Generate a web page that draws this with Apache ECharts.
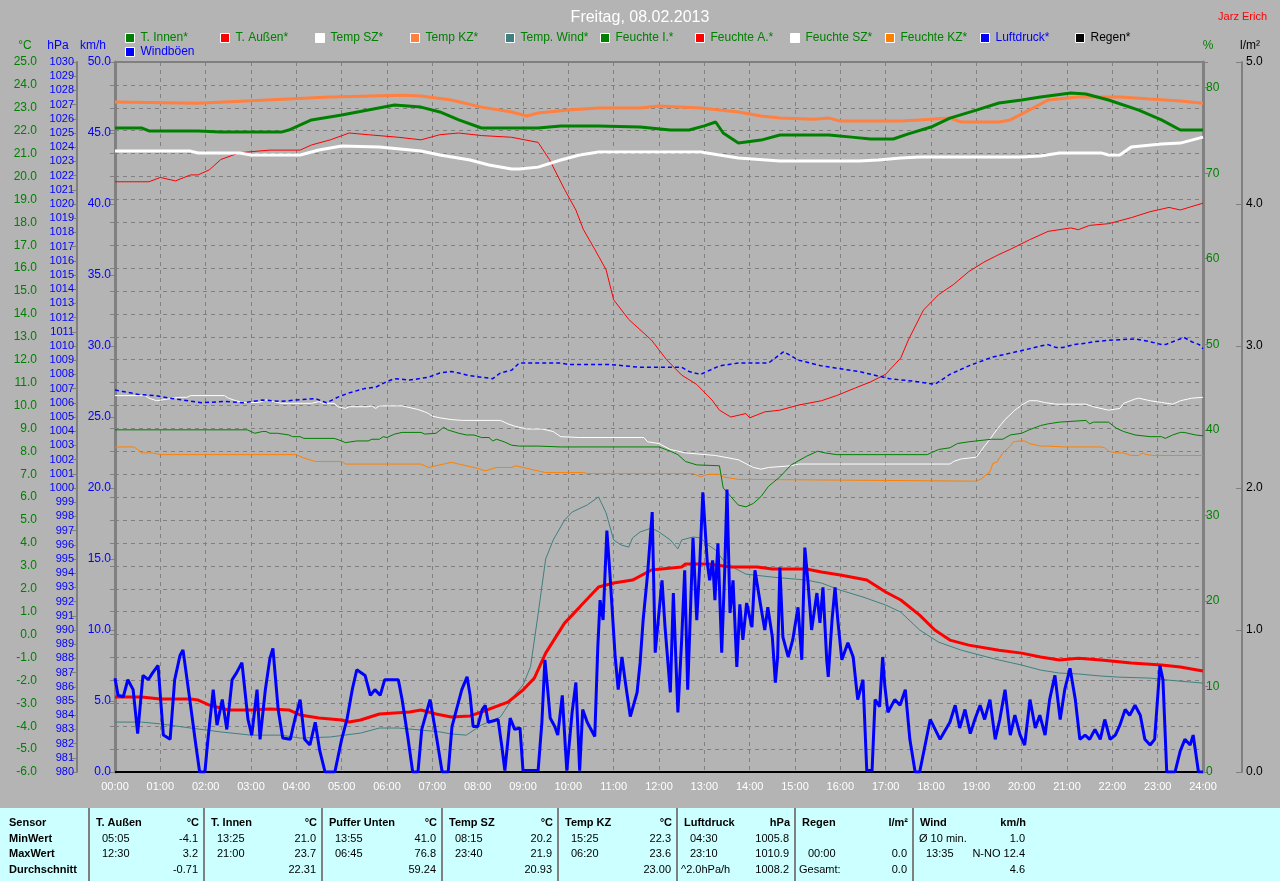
<!DOCTYPE html>
<html><head><meta charset="utf-8">
<script src="https://cdn.jsdelivr.net/npm/echarts@6/dist/echarts.min.js"></script>
<style>html,body{margin:0;padding:0;background:#b4b4b4}#c{width:1280px;height:881px}</style>
</head><body><div id="c"></div>
<script>
// ---------- DATA (time in minutes since 00:00, value) ----------
const tempKZ = [[0,23.25],[110,23.2],[285,23.47],[380,23.55],[405,23.52],[445,23.34],[485,23.03],[525,22.82],[545,22.64],[560,22.77],[600,22.9],[640,22.99],[695,22.99],[720,23.08],[775,22.99],[825,22.82],[855,22.64],[880,22.55],[925,22.5],[945,22.55],[960,22.42],[1040,22.42],[1065,22.47],[1105,22.55],[1120,22.38],[1170,22.38],[1185,22.47],[1210,22.9],[1235,23.34],[1275,23.47],[1330,23.47],[1370,23.38],[1410,23.3],[1440,23.2]];
const tInnen = [[0,22.12],[35,22.12],[45,21.99],[110,21.99],[140,21.94],[220,21.94],[230,22.03],[260,22.47],[300,22.69],[335,22.9],[370,23.12],[405,23.03],[430,22.82],[455,22.47],[485,22.12],[560,22.12],[590,22.21],[640,22.21],[695,22.16],[735,22.03],[760,22.03],[780,22.21],[795,22.38],[805,21.9],[825,21.46],[855,21.59],[880,21.81],[945,21.81],[975,21.72],[1000,21.64],[1030,21.64],[1050,21.86],[1080,22.16],[1105,22.55],[1140,22.9],[1170,23.21],[1200,23.34],[1225,23.47],[1265,23.65],[1285,23.6],[1315,23.34],[1355,22.9],[1385,22.47],[1410,22.03],[1440,22.03]];
const tempSZ = [[0,21.11],[100,21.11],[110,21.03],[165,21.03],[180,20.94],[245,20.94],[270,21.16],[300,21.33],[350,21.29],[405,21.11],[430,20.94],[470,20.72],[495,20.5],[525,20.33],[535,20.33],[560,20.41],[590,20.72],[615,20.94],[640,21.07],[775,21.07],[800,20.94],[825,20.81],[880,20.68],[985,20.68],[1010,20.72],[1040,20.81],[1065,20.85],[1200,20.85],[1225,20.9],[1250,21.03],[1305,21.03],[1315,20.94],[1330,20.94],[1345,21.29],[1385,21.42],[1410,21.46],[1440,21.72]];
const tAussen = [[0,-2.73],[35,-2.73],[60,-2.81],[100,-2.81],[110,-2.86],[125,-3.08],[150,-3.29],[180,-3.29],[205,-3.25],[230,-3.29],[245,-3.51],[270,-3.64],[300,-3.73],[310,-3.82],[325,-3.73],[350,-3.47],[390,-3.38],[405,-3.29],[425,-3.47],[445,-3.6],[470,-3.55],[485,-3.38],[520,-2.95],[540,-2.42],[555,-1.9],[570,-0.81],[595,0.5],[615,1.2],[640,2.08],[660,2.25],[685,2.38],[710,2.82],[750,2.95],[755,3.08],[785,3.08],[815,2.95],[850,2.95],[870,2.86],[915,2.86],[935,2.73],[960,2.6],[995,2.38],[1020,1.86],[1040,1.51],[1065,0.85],[1085,0.2],[1105,-0.24],[1130,-0.46],[1170,-0.68],[1200,-0.81],[1225,-0.98],[1250,-1.11],[1275,-1.03],[1305,-1.11],[1345,-1.24],[1385,-1.33],[1410,-1.42],[1440,-1.59]];
const tempWind = [[0,-3.82],[35,-3.82],[60,-3.9],[100,-4.08],[140,-4.25],[180,-4.39],[220,-4.39],[245,-4.52],[285,-4.47],[325,-4.3],[350,-4.08],[375,-4.08],[405,-4.17],[430,-4.25],[445,-4.34],[465,-4.39],[485,-3.95],[510,-3.6],[530,-2.6],[540,-2.2],[550,-1.4],[560,0.9],[570,3.3],[580,4.13],[595,5.0],[605,5.35],[625,5.66],[640,6.01],[650,5.31],[660,4.13],[670,3.91],[680,3.82],[685,4.22],[695,4.48],[710,4.65],[720,4.48],[735,4.13],[745,3.74],[750,4.13],[765,4.26],[775,4.22],[785,3.91],[795,3.69],[805,3.25],[820,2.9],[835,2.64],[870,2.51],[915,2.38],[935,2.25],[960,1.94],[990,1.64],[1020,1.29],[1040,0.98],[1065,0.2],[1090,-0.33],[1120,-0.68],[1145,-0.9],[1170,-1.11],[1200,-1.33],[1225,-1.55],[1250,-1.68],[1275,-1.72],[1305,-1.81],[1330,-1.86],[1370,-1.9],[1395,-1.99],[1440,-2.12]];
const feuchteA = [[0,69.0],[45,69.0],[60,69.5],[80,69.1],[100,69.8],[110,69.8],[125,70.4],[140,71.6],[165,72.4],[205,72.7],[245,72.7],[260,73.3],[285,73.9],[310,74.7],[335,74.5],[375,74.2],[405,73.9],[430,74.5],[455,74.7],[485,74.4],[525,74.2],[560,73.6],[575,71.6],[595,68.1],[610,65.7],[620,63.4],[635,61.1],[650,58.7],[660,55.2],[680,52.9],[710,50.5],[730,48.2],[750,46.4],[770,45.3],[790,43.5],[800,42.3],[815,41.5],[835,41.9],[840,41.4],[860,42.1],[880,42.3],[905,42.9],[935,43.4],[955,44.0],[980,44.9],[1000,45.6],[1020,46.5],[1040,48.4],[1050,50.5],[1070,54.0],[1090,55.8],[1110,57.0],[1130,58.5],[1150,59.6],[1170,60.5],[1185,61.1],[1210,62.2],[1235,63.2],[1265,63.6],[1275,63.4],[1290,63.9],[1315,64.1],[1345,64.8],[1370,65.5],[1395,66.0],[1410,65.7],[1440,66.5]];
const feuchteSZ = [[0,44.0],[40,44.0],[45,43.7],[55,43.4],[70,43.6],[85,43.8],[95,43.8],[100,44.0],[145,44.0],[150,43.7],[160,43.4],[170,43.2],[190,43.2],[200,43.5],[210,43.3],[220,43.1],[260,43.1],[270,43.3],[275,43.1],[290,43.1],[295,42.7],[305,42.5],[310,42.7],[335,42.7],[340,42.8],[345,42.5],[350,42.8],[380,42.8],[385,42.7],[400,42.4],[410,42.1],[415,41.9],[420,41.6],[430,41.4],[445,41.2],[460,41.1],[510,41.1],[520,40.7],[530,40.4],[545,40.1],[565,40.1],[580,39.8],[590,39.2],[615,39.1],[700,39.1],[705,38.6],[720,38.4],[735,37.7],[755,37.3],[795,37.0],[825,36.5],[845,35.6],[855,35.4],[865,35.6],[895,35.8],[905,36.0],[1105,36.0],[1110,36.3],[1120,36.6],[1140,36.8],[1150,38.0],[1158,38.9],[1167,40.0],[1178,41.2],[1191,42.3],[1200,42.9],[1210,43.4],[1220,43.4],[1230,43.2],[1245,43.0],[1285,43.0],[1295,42.7],[1315,42.3],[1330,42.5],[1335,43.1],[1350,43.6],[1355,43.7],[1370,43.4],[1385,43.2],[1400,43.0],[1410,43.4],[1425,43.7],[1440,43.8]];
const feuchteI = [[0,40.0],[175,40.0],[185,39.6],[195,39.8],[200,39.8],[205,39.6],[215,39.6],[230,39.4],[235,39.2],[245,39.2],[250,39.0],[290,39.0],[300,38.7],[305,38.5],[320,38.7],[335,38.7],[340,38.9],[350,38.9],[355,39.2],[360,39.1],[370,39.5],[380,39.7],[405,39.7],[410,39.5],[425,39.6],[435,40.3],[440,40.0],[455,39.6],[465,39.4],[475,39.4],[485,39.1],[495,39.1],[500,38.7],[505,38.9],[515,38.6],[525,38.2],[535,38.1],[560,38.1],[590,38.0],[720,38.0],[735,37.5],[745,37.1],[755,36.3],[770,35.9],[800,35.8],[805,33.2],[815,32.2],[825,31.2],[835,31.0],[845,31.4],[855,32.2],[865,33.4],[880,34.5],[895,35.9],[915,36.9],[930,37.5],[940,37.3],[955,37.1],[1075,37.1],[1090,37.7],[1105,37.9],[1115,38.4],[1130,38.6],[1160,38.9],[1175,38.9],[1185,39.4],[1200,39.6],[1210,40.0],[1225,40.5],[1235,40.7],[1250,40.9],[1285,41.1],[1290,40.7],[1295,40.9],[1315,40.9],[1325,40.2],[1335,39.8],[1350,39.4],[1370,39.2],[1385,39.2],[1390,39.0],[1400,39.4],[1410,39.7],[1415,39.7],[1430,39.4],[1440,39.3]];
const feuchteKZ = [[0,38.0],[25,38.0],[30,37.7],[35,37.3],[50,37.3],[60,37.1],[240,37.1],[250,36.7],[265,36.3],[300,36.3],[305,36.0],[405,36.0],[415,35.6],[430,35.9],[445,36.2],[460,35.9],[480,35.5],[490,35.2],[505,35.6],[525,35.6],[530,35.8],[545,35.5],[560,35.2],[570,35.0],[620,35.0],[625,34.9],[765,34.9],[775,34.5],[785,34.8],[800,34.8],[805,34.5],[825,34.2],[843,34.2],[845,34.0],[1140,34.0],[1147,34.3],[1158,35.1],[1162,36.1],[1167,36.2],[1175,37.3],[1185,38.1],[1189,38.6],[1198,38.7],[1204,38.7],[1210,38.4],[1225,38.1],[1235,38.1],[1255,38.0],[1305,38.0],[1310,37.9],[1315,37.5],[1325,37.3],[1335,37.3],[1345,37.0],[1355,37.0],[1360,37.3],[1365,37.1],[1375,37.0],[1440,37.0]];
const luftdruck = [[0,1006.9],[10,1006.8],[30,1006.6],[55,1006.5],[75,1006.3],[90,1006.2],[115,1006.0],[145,1006.1],[170,1006.0],[195,1006.2],[220,1006.1],[240,1006.2],[265,1006.3],[280,1006.0],[295,1006.4],[310,1006.7],[330,1007.0],[345,1007.1],[360,1007.5],[370,1007.7],[390,1007.6],[415,1007.8],[430,1008.1],[445,1008.2],[455,1008.1],[470,1007.9],[485,1007.8],[500,1007.7],[510,1008.1],[525,1008.3],[535,1008.8],[590,1008.8],[600,1008.7],[655,1008.7],[695,1008.5],[750,1008.5],[760,1008.2],[775,1008.0],[800,1008.6],[825,1008.8],[865,1008.8],[880,1009.4],[885,1009.6],[905,1009.0],[935,1008.6],[985,1008.2],[1025,1007.7],[1060,1007.5],[1085,1007.3],[1105,1008.0],[1130,1008.6],[1160,1009.2],[1185,1009.5],[1210,1009.8],[1225,1010.0],[1235,1010.1],[1245,1009.9],[1255,1009.9],[1270,1010.1],[1285,1010.2],[1295,1010.3],[1315,1010.4],[1350,1010.5],[1370,1010.3],[1385,1010.1],[1390,1010.1],[1400,1010.3],[1415,1010.6],[1425,1010.3],[1435,1010.1],[1440,1009.8]];
const windBoeen = [[0,6.6],[4,5.4],[11,5.3],[17,6.5],[24,5.8],[30,2.7],[37,6.8],[44,6.5],[50,7.0],[57,7.5],[64,2.6],[73,2.3],[79,6.5],[86,8.2],[90,8.6],[99,5.1],[107,1.9],[112,0],[119,0],[123,2.3],[130,5.8],[135,3.3],[142,5.1],[148,3.0],[155,6.5],[161,7.0],[168,7.7],[176,3.7],[181,2.6],[188,5.8],[192,2.3],[199,5.8],[205,8.0],[209,8.7],[216,4.4],[222,2.4],[232,2.3],[238,3.7],[245,5.1],[251,2.3],[258,1.9],[265,3.5],[271,1.5],[278,0],[291,0],[300,2.3],[307,3.7],[314,5.8],[320,7.2],[331,6.8],[338,5.4],[344,5.8],[351,5.4],[357,6.5],[375,6.5],[380,5.1],[388,2.3],[394,0],[401,0],[406,3.0],[417,5.1],[426,2.3],[433,0],[441,0],[446,3.2],[453,4.6],[459,5.8],[466,6.7],[470,5.4],[474,3.2],[480,3.2],[486,4.4],[490,4.7],[494,3.5],[507,3.7],[512,1.8],[516,0.1],[523,3.8],[529,3.0],[536,3.1],[540,0.1],[560,0.1],[565,3.5],[569,7.9],[573,5.6],[576,3.8],[582,3.2],[586,2.6],[592,5.4],[596,1.8],[598,0.1],[605,4.2],[610,6.3],[615,0.1],[619,4.4],[625,3.5],[635,2.5],[639,8.8],[642,12.1],[646,10.7],[651,17.0],[655,14.0],[662,8.1],[666,5.8],[671,8.1],[675,6.5],[682,3.9],[691,5.6],[695,7.7],[699,10.7],[705,14.0],[711,18.3],[715,8.4],[719,10.7],[724,13.5],[728,10.2],[735,5.6],[739,12.6],[745,4.2],[750,9.3],[754,14.2],[758,5.8],[765,16.5],[770,10.7],[774,14.7],[778,19.7],[784,14.7],[787,13.5],[791,14.9],[794,12.1],[798,16.1],[803,8.4],[807,14.2],[810,19.9],[814,11.2],[818,13.5],[823,7.4],[827,11.8],[831,9.3],[836,11.9],[843,10.2],[847,14.2],[854,11.9],[860,10.0],[864,11.6],[870,9.5],[874,6.3],[877,8.1],[880,14.4],[884,9.5],[891,8.1],[897,9.3],[904,11.6],[909,7.9],[913,15.8],[917,13.5],[922,10.0],[929,12.6],[933,10.5],[937,13.0],[942,7.9],[944,6.7],[949,10.7],[953,13.0],[957,10.5],[962,7.9],[970,9.1],[977,8.1],[983,5.1],[990,6.5],[995,0.1],[1002,0.1],[1006,5.1],[1012,4.6],[1016,8.1],[1019,6.0],[1023,4.2],[1032,5.1],[1039,4.7],[1046,5.8],[1052,2.3],[1059,0],[1065,0],[1079,3.7],[1092,2.3],[1105,3.5],[1112,4.7],[1118,3.1],[1125,4.4],[1132,2.7],[1138,3.7],[1145,4.7],[1151,3.7],[1158,5.1],[1165,2.3],[1171,3.7],[1178,5.8],[1185,2.6],[1191,4.0],[1198,2.6],[1204,1.9],[1211,5.1],[1218,3.1],[1224,4.0],[1231,2.6],[1237,5.1],[1244,6.8],[1251,3.7],[1257,5.8],[1264,7.3],[1271,5.1],[1277,2.3],[1284,2.6],[1290,2.3],[1297,3.0],[1304,2.3],[1310,3.7],[1317,2.3],[1324,2.6],[1330,3.3],[1337,4.4],[1343,4.0],[1350,4.7],[1357,4.0],[1363,2.3],[1370,1.9],[1376,2.3],[1383,7.5],[1387,6.5],[1392,0],[1403,0],[1410,1.5],[1416,2.3],[1423,1.9],[1427,2.6],[1434,0],[1440,0]];
const regen = [[0,0],[1440,0]];

const axisNames = ['°C','hPa','km/h','%','l/m²'];

const legendRow1 = ['T. Innen*','T. Außen*','Temp SZ*','Temp KZ*','Temp. Wind*','Feuchte I.*','Feuchte A.*','Feuchte SZ*','Feuchte KZ*','Luftdruck*','Regen*'];
const legendRow2 = ['Windböen'];

const tableRowLabels = ['Sensor','MinWert','MaxWert','Durchschnitt'];
const tableNames = ['T. Außen','T. Innen','Puffer Unten','Temp SZ','Temp KZ','Luftdruck','Regen','Wind'];
const tableUnits = ['°C','°C','°C','°C','°C','hPa','l/m²','km/h'];
const tableMinLeft = ['05:05','13:25','13:55','08:15','15:25','04:30','','Ø 10 min.'];
const tableMinVal = ['-4.1','21.0','41.0','20.2','22.3','1005.8','','1.0'];
const tableMaxLeft = ['12:30','21:00','06:45','23:40','06:20','23:10','00:00','13:35'];
const tableMaxVal = ['3.2','23.7','76.8','21.9','23.6','1010.9','0.0','N-NO 12.4'];
const tableAvgLeft = ['','','','','','^2.0hPa/h','Gesamt:',''];
const tableAvgVal = ['-0.71','22.31','59.24','20.93','23.00','1008.2','0.0','4.6'];

// ---------- STYLE / LAYOUT ----------
const FONT = '"Liberation Sans", Arial, sans-serif';
const GREEN = '#008000', BLUE = '#0000ff', GRID = '#808080';
const colorOf = {
  'T. Innen*':'#008000','T. Außen*':'#ff0000','Temp SZ*':'#ffffff','Temp KZ*':'#ff8040','Temp. Wind*':'#408080',
  'Feuchte I.*':'#008000','Feuchte A.*':'#ff0000','Feuchte SZ*':'#ffffff','Feuchte KZ*':'#ff8000',
  'Luftdruck*':'#0000ff','Regen*':'#000000','Windböen':'#0000ff'
};
const legendTextColor = n => (n==='Luftdruck*'||n==='Windböen') ? BLUE : (n==='Regen*' ? '#000000' : GREEN);

function ln(name, data, yAxisIndex, width, extra) {
  return Object.assign({
    name, type:'line', data, yAxisIndex, showSymbol:false, symbol:'none', smooth:false,
    color: colorOf[name], lineStyle:{color:colorOf[name], width}, emphasis:{disabled:true}
  }, extra||{});
}

const series = [
  ln('Regen*', regen, 4, 2),
  ln('Feuchte KZ*', feuchteKZ, 3, 1),
  ln('Feuchte SZ*', feuchteSZ, 3, 1),
  ln('Feuchte I.*', feuchteI, 3, 1),
  ln('Feuchte A.*', feuchteA, 3, 1),
  ln('Luftdruck*', luftdruck, 1, 1.5, {lineStyle:{color:BLUE, width:1.5, type:[4,3]}}),
  ln('Temp. Wind*', tempWind, 0, 1),
  ln('Temp KZ*', tempKZ, 0, 3),
  ln('Temp SZ*', tempSZ, 0, 3),
  ln('T. Innen*', tInnen, 0, 3),
  ln('T. Außen*', tAussen, 0, 3),
  ln('Windböen', windBoeen, 2, 3)
];

const legends = [];
legendRow1.forEach((n,i)=>legends.push({name:n, left:125+i*95, top:32}));
legendRow2.forEach((n,i)=>legends.push({name:n, left:125+i*95, top:46}));
const legendCfg = legends.map(l=>({
  data:[l.name], left:l.left, top:l.top, padding:0, itemGap:0, icon:'rect', itemWidth:9, itemHeight:9,
  selectedMode:false, itemStyle:{borderColor:'#ffffff', borderWidth:1},
  textStyle:{color:legendTextColor(l.name), fontSize:12, fontFamily:FONT, padding:[0,0,0,1]}
}));

// Graphic: axis unit captions + bottom statistics table
const G = [];
const nameX = [25, 58, 93, 1208, 1250];
const nameColor = [GREEN, BLUE, BLUE, GREEN, '#000000'];
axisNames.forEach((t,i)=>G.push({type:'text', x:nameX[i], y:46, silent:true,
  style:{text:t, fill:nameColor[i], font:'12px '+FONT, textAlign:'center', textVerticalAlign:'middle', align:'center', verticalAlign:'middle'}}));

const colX = [89,204,322,442,558,677,795,913,1031];
const rowY = [823,839,854,870];
G.push({type:'rect', shape:{x:0,y:808,width:1280,height:73}, style:{fill:'#ccffff'}, silent:true});
colX.slice(0,8).forEach(x=>G.push({type:'line', shape:{x1:x,y1:808,x2:x,y2:881}, style:{stroke:'#808080', lineWidth:2}, silent:true}));
function txt(t, x, y, align, bold) {
  if (!t) return;
  G.push({type:'text', x, y, silent:true, style:{text:t, fill:'#000', font:(bold?'bold ':'')+'11px '+FONT, textAlign:align, textVerticalAlign:'middle', align, verticalAlign:'middle'}});
}
tableRowLabels.forEach((t,r)=>txt(t, 9, rowY[r], 'left', true));
const lx = (t,i)=> colX[i] + (/^[0-9]/.test(t) ? 13 : 6);
tableNames.forEach((t,i)=>{
  txt(t, colX[i]+7, rowY[0], 'left', true);
  txt(tableUnits[i], colX[i+1]-5, rowY[0], 'right', true);
  txt(tableMinLeft[i], lx(tableMinLeft[i],i), rowY[1], 'left');
  txt(tableMinVal[i], colX[i+1]-6, rowY[1], 'right');
  txt(tableMaxLeft[i], lx(tableMaxLeft[i],i), rowY[2], 'left');
  txt(tableMaxVal[i], colX[i+1]-6, rowY[2], 'right');
  txt(tableAvgLeft[i], colX[i]+4, rowY[3], 'left');
  txt(tableAvgVal[i], colX[i+1]-6, rowY[3], 'right');
});

const yBase = (extra) => Object.assign({
  type:'value',
  axisLine:{show:true, lineStyle:{color:GRID, width:2}},
  axisTick:{show:true, length:5, lineStyle:{color:GRID}},
  splitLine:{show:false}
}, extra);

const pad2 = n => String(n).padStart(2,'0');

const option = {
  animation:false,
  backgroundColor:'#b4b4b4',
  title:[
    {text:'Freitag, 08.02.2013', left:'center', top:5, textStyle:{color:'#ffffff', fontSize:16, fontWeight:'normal', fontFamily:FONT}},
    {text:'Jarz Erich', right:8, top:6, textStyle:{color:'#ff0000', fontSize:11, fontWeight:'normal', fontFamily:FONT}}
  ],
  legend: legendCfg,
  grid:{left:115, right:77, top:62, bottom:109, show:true, borderColor:GRID, borderWidth:2, backgroundColor:'transparent'},
  xAxis:{
    type:'value', min:0, max:1440, interval:60,
    axisLine:{show:false}, axisTick:{show:false},
    axisLabel:{color:'#ffffff', fontSize:11, fontFamily:FONT, margin:9, formatter:v=>pad2(Math.round(v/60))+':00'},
    splitLine:{show:true, lineStyle:{color:GRID, width:1, type:[4,4]}}
  },
  yAxis:[
    yBase({position:'left', offset:75, min:-6, max:25, interval:1,
      axisLabel:{color:GREEN, fontSize:12, fontFamily:FONT, margin:3, formatter:v=>v.toFixed(1)},
      splitLine:{show:true, lineStyle:{color:GRID, width:1, type:[4,4]}}}),
    yBase({position:'left', offset:38, min:980, max:1030, interval:1,
      axisLabel:{color:BLUE, fontSize:11, fontFamily:FONT, margin:3, formatter:v=>String(v)}}),
    yBase({position:'left', offset:0, min:0, max:50, interval:5,
      axisLine:{show:true, lineStyle:{color:GRID, width:3}},
      axisLabel:{color:BLUE, fontSize:12, fontFamily:FONT, margin:4, formatter:v=>v.toFixed(1)}}),
    yBase({position:'right', offset:0, min:0, max:83, interval:10,
      axisLine:{show:true, lineStyle:{color:GRID, width:3}},
      axisLabel:{color:GREEN, fontSize:12, fontFamily:FONT, margin:3, formatter:v=> v>80 ? '' : String(v)}}),
    yBase({position:'right', offset:39, min:0, max:5, interval:1,
      axisTick:{show:true, inside:true, length:6, lineStyle:{color:GRID}},
      axisLabel:{color:'#000000', fontSize:12, fontFamily:FONT, margin:4, formatter:v=>v.toFixed(1)}})
  ],
  series,
  graphic: G
};

const chart = echarts.init(document.getElementById('c'), null, {renderer:'canvas'});
chart.setOption(option);
</script></body></html>
